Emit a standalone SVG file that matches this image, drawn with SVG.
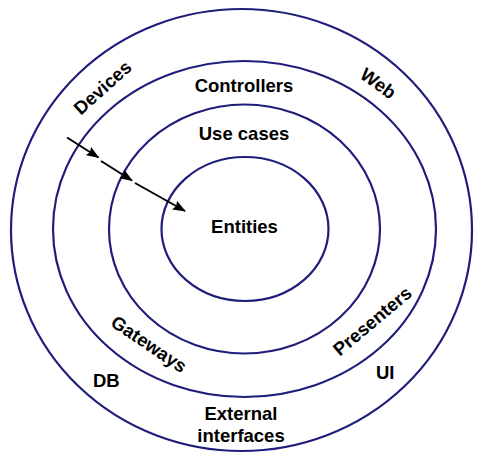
<svg xmlns="http://www.w3.org/2000/svg" width="483" height="462" viewBox="0 0 483 462">
<defs>
<style>
.ring{fill:none;stroke:#1e1e7a;stroke-width:2.2}
.lbl{font-family:"Liberation Sans",Arial,sans-serif;font-weight:bold;font-size:18.5px;fill:#000}
.mid{text-anchor:middle}
.arr{stroke:#000;stroke-width:2;fill:none;marker-end:url(#ah)}
</style>
<marker id="ah" viewBox="0 0 13 10" refX="12" refY="5" markerWidth="13" markerHeight="10" markerUnits="userSpaceOnUse" orient="auto">
<path d="M0,0 L13,5 L0,10 L2,5 Z" fill="#000"/>
</marker>
</defs>
<rect width="483" height="462" fill="#fff"/>
<g id="ring-external"><ellipse class="ring" cx="241.5" cy="230" rx="230.5" ry="221"/></g>
<g id="ring-adapters"><ellipse class="ring" cx="244.5" cy="229" rx="191.5" ry="168"/></g>
<g id="ring-usecases"><ellipse class="ring" cx="244.5" cy="229" rx="135.5" ry="124.5"/></g>
<g id="ring-entities"><ellipse class="ring" cx="245" cy="229" rx="83.5" ry="72"/></g>
<g id="connectors">
<line class="arr" x1="67" y1="137.5" x2="98.5" y2="157.5"/>
<line class="arr" x1="101" y1="161" x2="132" y2="180.5"/>
<line class="arr" x1="135" y1="183" x2="185" y2="211"/>
</g>
<g id="labels">
<text class="lbl mid" x="244" y="92">Controllers</text>
<text class="lbl mid" x="244" y="140">Use cases</text>
<text class="lbl mid" x="244.5" y="232.5">Entities</text>
<text class="lbl mid" x="241" y="420">External</text>
<text class="lbl mid" x="241" y="441.5">interfaces</text>
<text class="lbl" x="93" y="387">DB</text>
<text class="lbl" x="376" y="379">UI</text>
<text class="lbl mid" dy="0.35em" transform="translate(102.5 87.5) rotate(-42)">Devices</text>
<text class="lbl mid" dy="0.35em" transform="translate(378.3 83.3) rotate(36)">Web</text>
<text class="lbl mid" dy="0.35em" transform="translate(149 344) rotate(34)">Gateways</text>
<text class="lbl mid" dy="0.35em" transform="translate(372.3 321) rotate(-40)">Presenters</text>
</g>
</svg>
